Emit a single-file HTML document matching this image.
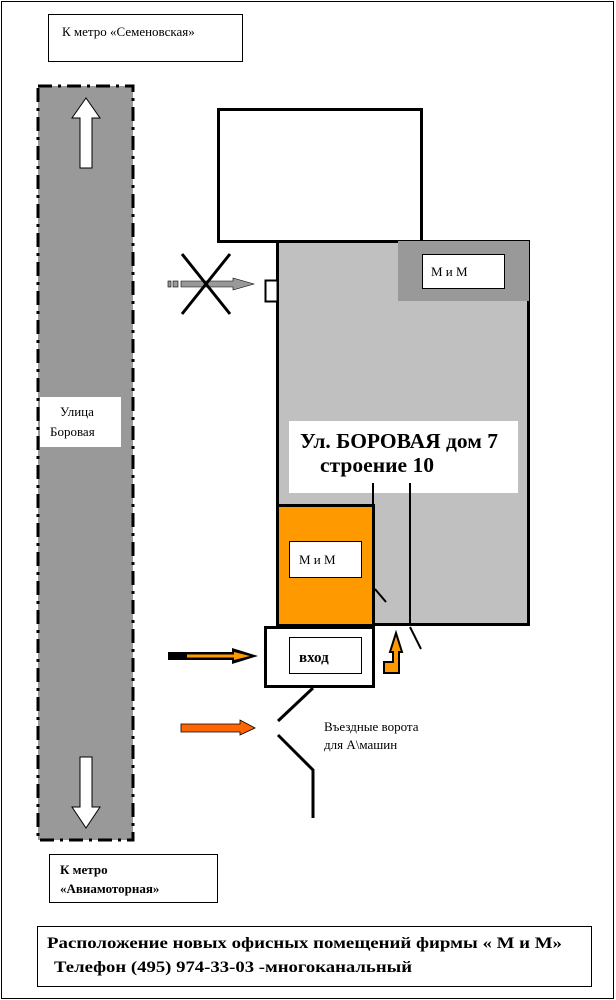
<!DOCTYPE html>
<html><head><meta charset="utf-8"><style>
html,body{margin:0;padding:0;background:#fff;}
svg{display:block;}
text{font-family:"Liberation Serif","Noto Serif CJK SC",serif;fill:#000;}
</style></head><body>
<svg width="616" height="1000" viewBox="0 0 616 1000" xmlns="http://www.w3.org/2000/svg">
<rect x="1.5" y="1.5" width="612" height="997" fill="#fff" stroke="#000" stroke-width="1"/>
<rect x="48.5" y="14.5" width="194" height="47" fill="#fff" stroke="#000"/>
<text x="62" y="36" font-size="13">К метро «Семеновская»</text>
<rect x="38" y="86" width="95" height="754" fill="#999" stroke="#000" stroke-width="3" stroke-dasharray="14,6,3,6"/>
<polygon points="80,168 92,168 92,118 100,118 86,98 72,118 80,118" fill="#fff" stroke="#000"/>
<polygon points="80,757 92,757 92,807 100,807 86,828 72,807 80,807" fill="#fff" stroke="#000"/>
<rect x="40" y="397" width="81" height="50" fill="#fff"/>
<text x="60" y="416" font-size="13">Улица</text>
<text x="50" y="436" font-size="13">Боровая</text>
<rect x="218.5" y="109.5" width="203" height="132" fill="#fff" stroke="#000" stroke-width="3"/>
<rect x="277.5" y="241.5" width="251" height="383" fill="#c0c0c0" stroke="#000" stroke-width="3"/>
<rect x="265.5" y="280.5" width="12" height="21" fill="#fff" stroke="#000" stroke-width="2"/>
<rect x="398" y="241" width="131" height="60" fill="#999"/>
<rect x="422.5" y="254.5" width="82" height="34" fill="#fff" stroke="#000"/>
<text x="431" y="276" font-size="13">М и М</text>
<rect x="289" y="421" width="229" height="72" fill="#fff"/>
<text x="300" y="448" font-size="21" font-weight="bold" textLength="198" lengthAdjust="spacingAndGlyphs">Ул. БОРОВАЯ дом 7</text>
<text x="320" y="472" font-size="21" font-weight="bold" textLength="114" lengthAdjust="spacingAndGlyphs">строение 10</text>
<line x1="373" y1="483" x2="373" y2="625" stroke="#000" stroke-width="2"/>
<line x1="410" y1="483" x2="410" y2="625" stroke="#000" stroke-width="2"/>
<rect x="277.5" y="505.5" width="96" height="120" fill="#ff9900" stroke="#000" stroke-width="3"/>
<rect x="289.5" y="541.5" width="72" height="36" fill="#fff" stroke="#000"/>
<text x="299" y="564" font-size="13">М и М</text>
<line x1="375" y1="589" x2="386" y2="602" stroke="#000" stroke-width="2"/>
<rect x="265.5" y="627.5" width="108" height="59" fill="#fff" stroke="#000" stroke-width="3"/>
<rect x="289.5" y="637.5" width="72" height="36" fill="#fff" stroke="#000"/>
<text x="299" y="662" font-size="15" font-weight="bold">вход</text>
<line x1="410" y1="627" x2="421" y2="649" stroke="#000" stroke-width="2"/>
<polygon points="384,673 399,673 399,652 402,652 396,633 390,652 393,652 393,662 384,662" fill="#ff9900" stroke="#000" stroke-width="2"/>
<polyline points="313,688 278,721" fill="none" stroke="#000" stroke-width="3"/>
<polyline points="278,735 313,770 313,818" fill="none" stroke="#000" stroke-width="3"/>
<text x="324" y="731" font-size="13">Въездные ворота</text>
<text x="324" y="749" font-size="13">для А\машин</text>
<polygon points="181,724 240,724 240,720 255,728 240,735 240,732 181,732" fill="#ff6600" stroke="#000" stroke-width="0.8"/>
<polygon points="168,652 232,652 232,648 258,656 232,664 232,660 168,660" fill="#000"/>
<polygon points="187,654.5 234,654.5 234,652 250,656 234,660 234,657.5 187,657.5" fill="#ff9900"/>
<rect x="168" y="281" width="3" height="6" fill="#999" stroke="#000" stroke-width="0.6"/>
<rect x="173" y="281" width="5" height="6" fill="#999" stroke="#000" stroke-width="0.6"/>
<polygon points="181,281 233,281 233,278 254,284 233,290 233,287 181,287" fill="#999" stroke="#000" stroke-width="0.6"/>
<line x1="182" y1="254" x2="230" y2="314" stroke="#000" stroke-width="3"/>
<line x1="230" y1="254" x2="182" y2="314" stroke="#000" stroke-width="3"/>
<rect x="49.5" y="854.5" width="168" height="48" fill="#fff" stroke="#000"/>
<text x="60" y="874" font-size="13" font-weight="bold">К метро</text>
<text x="60" y="893" font-size="13" font-weight="bold">«Авиамоторная»</text>
<rect x="37.5" y="926.5" width="554" height="60" fill="#fff" stroke="#000"/>
<text x="47" y="948" font-size="16" font-weight="bold" textLength="515" lengthAdjust="spacingAndGlyphs">Расположение новых офисных помещений фирмы « М и М»</text>
<text x="54" y="972" font-size="16" font-weight="bold" textLength="358" lengthAdjust="spacingAndGlyphs">Телефон (495) 974-33-03 -многоканальный</text>
</svg>
</body></html>
